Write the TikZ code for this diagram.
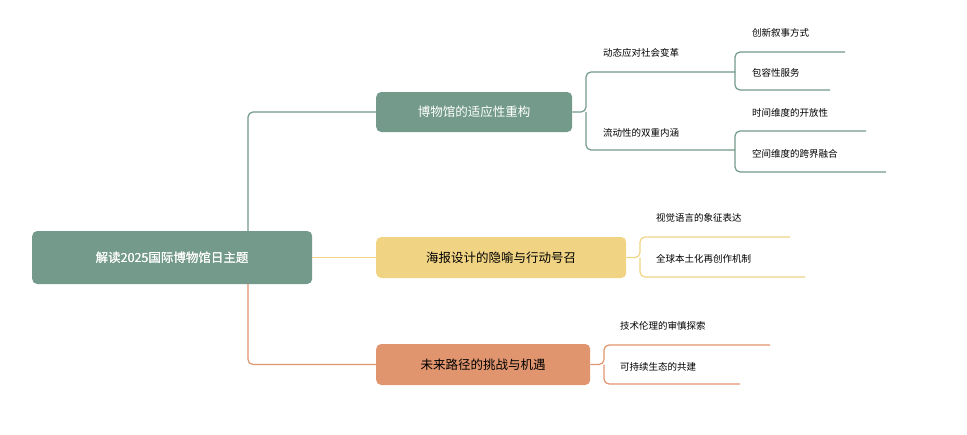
\documentclass[tikz,border=0pt]{standalone}
\usepackage{fontspec}
\setmainfont{Noto Sans CJK SC}
\begin{document}
\begin{tikzpicture}[x=1pt,y=-1pt,
 box/.style={rounded corners=5pt,text=white,anchor=west,inner sep=0pt},
 leaf/.style={anchor=west,inner sep=0pt,font=\fontsize{9.5}{11}\selectfont},
 ln/.style={line width=1.2pt,rounded corners=5pt}]
\definecolor{cg}{HTML}{739A8A}\definecolor{cy}{HTML}{F0D484}\definecolor{co}{HTML}{E0956E}
\useasboundingbox (0,0) rectangle (967,434);
\node[box,fill=cg,minimum width=280pt,minimum height=53pt,font=\fontsize{12.5}{14}\selectfont] (r) at (32,257.5) {解读2025国际博物馆日主题};
\node[box,fill=cg,minimum width=196pt,minimum height=40pt,font=\fontsize{12.5}{14}\selectfont,align=center] (b1) at (376,112) {\hspace{196pt}};
\node[text=white,font=\fontsize{12.5}{14}\selectfont] at (b1) {博物馆的适应性重构};
\node[box,fill=cy,minimum width=250pt,minimum height=41pt] (b2) at (376,257.5) {};
\node[font=\fontsize{12.5}{14}\selectfont] at (b2) {海报设计的隐喻与行动号召};
\node[box,fill=co,minimum width=214pt,minimum height=41pt] (b3) at (376,364.5) {};
\node[font=\fontsize{12.5}{14}\selectfont] at (b3) {未来路径的挑战与机遇};
\node at (r) {};
\node[text=white,font=\fontsize{12.5}{14}\selectfont] at (172,257.5) {解读2025国际博物馆日主题};
% root connectors
\coordinate (rt) at (248,231); \coordinate (rb) at (248,284);
\draw[ln,cg] (rt) |- (b1.west);
\draw[ln,co] (rb) |- (b3.west);
\draw[ln,cy] (r.east) -- (b2.west);
% branch1
\node[leaf] (s1) at (603,53) {动态应对社会变革};
\node[leaf] (s2) at (603,133) {流动性的双重内涵};
\coordinate (s1u) at (735,72); \coordinate (s2u) at (735,150);
\draw[ln,cg] (b1.east) -- (586,112) |- (s1u);
\draw[ln,cg] (586,112) |- (s2u);
\node[leaf] (l1) at (752,33) {创新叙事方式};
\node[leaf] (l2) at (752,73) {包容性服务};
\node[leaf] (l3) at (752,113) {时间维度的开放性};
\node[leaf] (l4) at (752,154) {空间维度的跨界融合};
\draw[ln,cg] (s1u) |- (845,52);
\draw[ln,cg] (s1u) |- (830,90);
\draw[ln,cg] (s2u) |- (866,131);
\draw[ln,cg] (s2u) |- (886,172);
% branch2
\node[leaf] (m1) at (656,218) {视觉语言的象征表达};
\node[leaf] (m2) at (656,259) {全球本土化再创作机制};
\draw[ln,cy] (b2.east) -- (640,257.5) |- (790,237);
\draw[ln,cy] (640,257.5) |- (805,277);
% branch3
\node[leaf] (n1) at (620,326) {技术伦理的审慎探索};
\node[leaf] (n2) at (620,367) {可持续生态的共建};
\draw[ln,co] (b3.east) -- (604,364.5) |- (770,345);
\draw[ln,co] (604,364.5) |- (740,384);
\end{tikzpicture}
\end{document}
